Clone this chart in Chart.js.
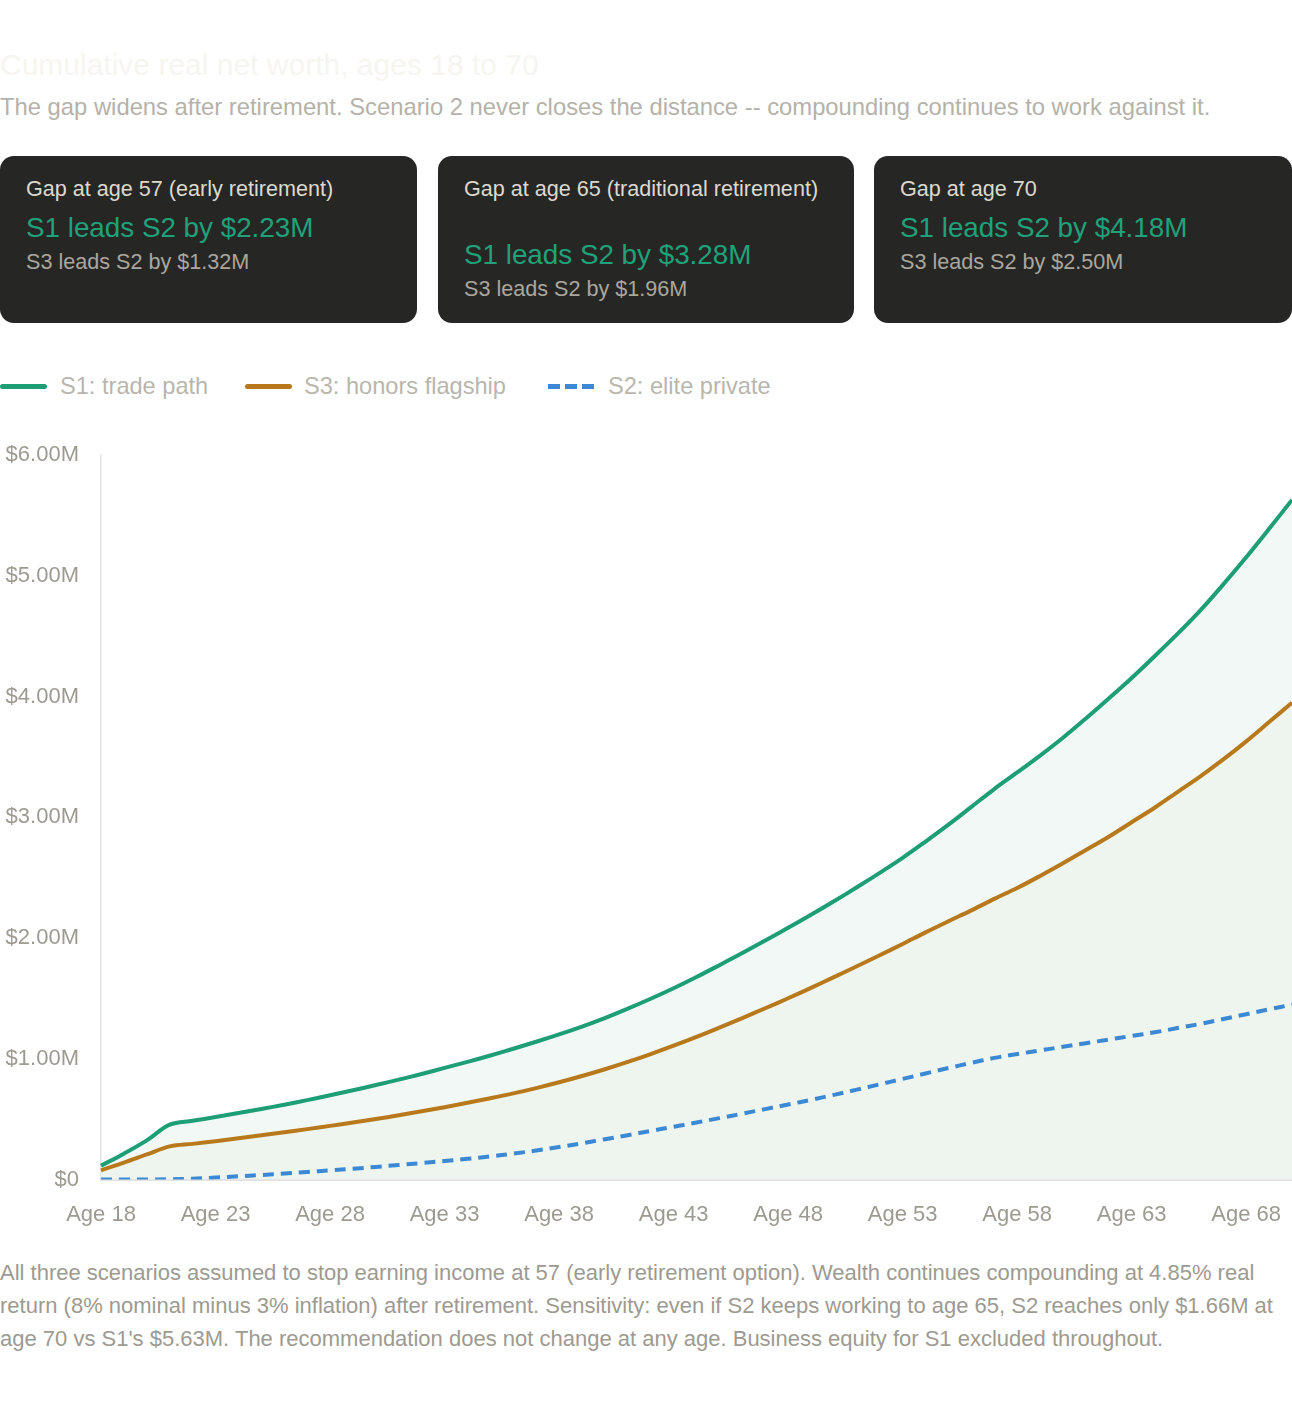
<!DOCTYPE html>
<html>
<head>
<meta charset="utf-8">
<script src="https://cdn.jsdelivr.net/npm/chart.js"></script>
<style>
  html, body { margin: 0; padding: 0; background: #fff; }
  body { width: 1292px; height: 1404px; position: relative; font-family: "Liberation Sans", Helvetica, Arial, sans-serif; overflow: hidden; }
  .title { position: absolute; left: 0; top: 47px; font-size: 30px; line-height: 36px; color: #f6f5f0; }
  .sub { position: absolute; left: 0; top: 93px; font-size: 23.8px; line-height: 28px; color: #b5b2a9; white-space: nowrap; }
  .card { position: absolute; top: 156px; height: 167px; background: #262624; border-radius: 14px; box-sizing: border-box; padding: 20px 26px 0 26px; }
  .card .lbl { font-size: 21.6px; line-height: 26px; color: #dcd9d0; white-space: nowrap; }
  .card .big { font-size: 27.8px; line-height: 38px; color: #1fa27a; margin-top: 7px; white-space: nowrap; }
  .card .small { font-size: 21.6px; line-height: 30px; color: #aaa79e; white-space: nowrap; }
  .legend { position: absolute; left: 0; top: 371px; height: 30px; font-size: 23.6px; line-height: 30px; color: #b9b6ad; }
  .legend span.item { position: absolute; top: 0; white-space: nowrap; }
  .sw { position: absolute; top: 12.5px; width: 47px; height: 5px; border-radius: 3px; }
  .sw.dash { background: none; }
  .sw.dash i { position: absolute; top: 0; width: 12px; height: 5px; background: #3b88d5; }
  #wrap { position: absolute; left: 0; top: 420px; width: 1292px; height: 830px; }
  .foot { position: absolute; left: 0; top: 1256px; width: 1292px; font-size: 22px; line-height: 33px; color: #9d9a91; }
</style>
</head>
<body>
<div class="title">Cumulative real net worth, ages 18 to 70</div>
<div class="sub">The gap widens after retirement. Scenario 2 never closes the distance -- compounding continues to work against it.</div>

<div class="card" style="left:0; width:417px;">
  <div class="lbl">Gap at age 57 (early retirement)</div>
  <div class="big">S1 leads S2 by $2.23M</div>
  <div class="small">S3 leads S2 by $1.32M</div>
</div>
<div class="card" style="left:438px; width:416px;">
  <div class="lbl" style="margin-bottom:34px;">Gap at age 65 (traditional retirement)</div>
  <div class="big">S1 leads S2 by $3.28M</div>
  <div class="small">S3 leads S2 by $1.96M</div>
</div>
<div class="card" style="left:874px; width:418px;">
  <div class="lbl">Gap at age 70</div>
  <div class="big">S1 leads S2 by $4.18M</div>
  <div class="small">S3 leads S2 by $2.50M</div>
</div>

<div class="legend">
  <span class="sw" style="left:0; background:#1d9e75;"></span>
  <span class="item" style="left:60px;">S1: trade path</span>
  <span class="sw" style="left:245px; background:#b8791d;"></span>
  <span class="item" style="left:304px;">S3: honors flagship</span>
  <span class="sw dash" style="left:548px;"><i style="left:0"></i><i style="left:17px"></i><i style="left:34px"></i></span>
  <span class="item" style="left:608px;">S2: elite private</span>
</div>

<div id="wrap"><canvas id="myChart"></canvas></div>

<div class="foot">All three scenarios assumed to stop earning income at 57 (early retirement option). Wealth continues compounding at 4.85% real return (8% nominal minus 3% inflation) after retirement. Sensitivity: even if S2 keeps working to age 65, S2 reaches only $1.66M at age 70 vs S1's $5.63M. The recommendation does not change at any age. Business equity for S1 excluded throughout.</div>

<script>
// ages 18 .. 70
const ages = [18, 19, 20, 21, 22, 23, 24, 25, 26, 27, 28, 29, 30, 31, 32, 33, 34, 35,
  36, 37, 38, 39, 40, 41, 42, 43, 44, 45, 46, 47, 48, 49, 50, 51, 52, 53,
  54, 55, 56, 57, 58, 59, 60, 61, 62, 63, 64, 65, 66, 67, 68, 69, 70];

// net worth in $M
const s1Trade = [0.115, 0.215, 0.325, 0.455, 0.487, 0.518, 0.551, 0.585, 0.620, 0.658, 0.698, 0.740,
  0.783, 0.828, 0.875, 0.925, 0.975, 1.028, 1.084, 1.142, 1.203, 1.268, 1.338, 1.416,
  1.498, 1.585, 1.678, 1.776, 1.876, 1.980, 2.085, 2.193, 2.305, 2.421, 2.541, 2.665,
  2.800, 2.940, 3.087, 3.235, 3.372, 3.512, 3.660, 3.820, 3.985, 4.155, 4.335, 4.520,
  4.715, 4.930, 5.155, 5.390, 5.630];

const s3Honors = [0.077, 0.140, 0.208, 0.275, 0.296, 0.318, 0.342, 0.367, 0.392, 0.418, 0.445, 0.473,
  0.502, 0.533, 0.566, 0.600, 0.636, 0.674, 0.714, 0.758, 0.806, 0.858, 0.914, 0.975,
  1.040, 1.109, 1.182, 1.259, 1.338, 1.419, 1.502, 1.588, 1.677, 1.767, 1.858, 1.952,
  2.048, 2.140, 2.230, 2.325, 2.415, 2.515, 2.620, 2.730, 2.840, 2.960, 3.080, 3.210,
  3.340, 3.480, 3.630, 3.790, 3.950];

const s2Elite = [0.000, 0.000, 0.001, 0.003, 0.008, 0.017, 0.027, 0.038, 0.050, 0.063, 0.076, 0.090,
  0.105, 0.121, 0.137, 0.154, 0.172, 0.192, 0.215, 0.241, 0.270, 0.301, 0.334, 0.368,
  0.403, 0.438, 0.473, 0.509, 0.546, 0.584, 0.622, 0.661, 0.702, 0.745, 0.789, 0.834,
  0.879, 0.924, 0.967, 1.008, 1.040, 1.070, 1.100, 1.130, 1.160, 1.190, 1.220, 1.255,
  1.290, 1.330, 1.370, 1.410, 1.450];

const yTicks = [0, 1, 2, 3, 4, 5, 6];

const labels = ages.map((a) => 'Age ' + a);

Chart.defaults.font.family = '"Liberation Sans", Helvetica, Arial, sans-serif';

const data = {
  labels: labels,
  datasets: [
    {
      label: 'S1: trade path',
      data: s1Trade,
      borderColor: '#1d9e75',
      backgroundColor: '#f2f8f6',
      borderWidth: 4,
      fill: '+1',
    },
    {
      label: 'S3: honors flagship',
      data: s3Honors,
      borderColor: '#b8791d',
      backgroundColor: '#eef5ee',
      borderWidth: 4,
      fill: 'origin',
    },
    {
      label: 'S2: elite private',
      data: s2Elite,
      borderColor: '#3b88d5',
      borderWidth: 4,
      borderDash: [11, 7],
      fill: false,
    },
  ],
};

const config = {
  type: 'line',
  data: data,
  options: {
    responsive: true,
    maintainAspectRatio: false,
    animation: false,
    layout: { padding: { top: 32, bottom: 0, left: 0, right: 0 } },
    elements: {
      point: { radius: 0, hoverRadius: 0 },
      line: { tension: 0.35, borderCapStyle: 'butt' },
    },
    plugins: {
      legend: { display: false },
      tooltip: { enabled: false },
      // all fills first, so no area covers a line
      filler: { drawTime: 'beforeDatasetsDraw' },
    },
    scales: {
      x: {
        grid: { display: false, drawTicks: false },
        border: { display: true, color: '#e3e3e3', width: 2 },
        afterFit: (scale) => { scale.paddingRight = 0; },
        ticks: {
          autoSkip: false,
          maxRotation: 0,
          padding: 22,
          color: '#9d9a91',
          font: { size: 22 },
          callback: function (value, index) {
            return index % 5 === 0 ? labels[index] : '';
          },
        },
      },
      y: {
        min: yTicks[0],
        max: yTicks[yTicks.length - 1],
        afterFit: (scale) => { scale.width = 101; },
        afterBuildTicks: (scale) => { scale.ticks = yTicks.map((v) => ({ value: v })); },
        grid: { display: false, drawTicks: false },
        border: { display: true, color: '#e3e3e3', width: 1.5 },
        ticks: {
          padding: 22,
          color: '#9d9a91',
          font: { size: 22 },
          callback: (v) => (v === 0 ? '$0' : '$' + v.toFixed(2) + 'M'),
        },
      },
    },
  },
};

const netWorthChart = new Chart(document.getElementById('myChart'), config);
</script>
</body>
</html>
